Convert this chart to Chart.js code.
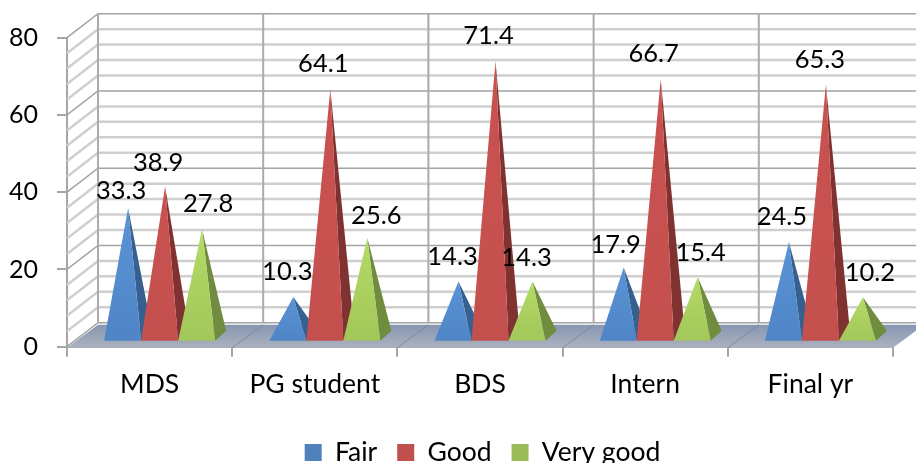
<!DOCTYPE html>
<html>
<head>
<meta charset="utf-8">
<style>
html, body { margin: 0; padding: 0; background: #fff; overflow: hidden; }
#wrap { position: relative; width: 916px; height: 463px; }
</style>
<script src="https://cdn.jsdelivr.net/npm/chart.js@4/dist/chart.umd.js"></script>
</head>
<body>
<div id="wrap"><canvas id="chart" width="916" height="463"></canvas></div>
<script>
const categories = ['MDS', 'PG student', 'BDS', 'Intern', 'Final yr'];
const fair = [33.3, 10.3, 14.3, 17.9, 24.5];
const good = [38.9, 64.1, 71.4, 66.7, 65.3];
const veryGood = [27.8, 25.6, 14.3, 15.4, 10.2];
const seriesNames = ['Fair', 'Good', 'Very good'];
const yTicks = [0, 20, 40, 60, 80];

const legendColors = ['#4f81bd', '#c0504d', '#9bbb59'];
const frontTop = ['#5a93d6', '#c9524f', '#b4da66'];
const frontBottom = ['#4f85c6', '#c4504d', '#a2c75a'];
const sideColors = ['#35608f', '#803230', '#6f8c3f'];
const fontName = 'Lato, "Noto Sans", sans-serif';

// 3D box of the wall and the pyramids
const depthX = 31, depthY = 24;
const rowX = 10, baseY = 5, apexY = 10;
const sideX = 11, sideY = 10;
// hand placed labels, Excel moved a few of them
const labelOffsets = [
    [[-7, -17], [-6, -25], [-6, -25], [-8, -23], [-7, -25]],
    [[-7, -24], [-7, -25], [-7, -25], [-7, -25], [-6, -25]],
    [[6, -26], [9, -22], [-6, -24], [3, -24], [7, -25]]
];

const wallPlugin = {
    id: 'wall3d',
    beforeDatasetsDraw(chart) {
        const ctx = chart.ctx;
        const xs = chart.scales.x, ys = chart.scales.y;
        const left = xs.left, right = xs.right;
        const y0 = ys.getPixelForValue(0), yTop = ys.getPixelForValue(80);

        ctx.save();
        // wall lines, light every 4, dark every 20
        for (let v = 0; v <= 80; v += 4) {
            const y = ys.getPixelForValue(v);
            const major = v % 20 === 0;
            ctx.strokeStyle = major ? '#a3a3a3' : '#cfcfcf';
            ctx.lineWidth = major ? 1.5 : 2.5;
            ctx.beginPath();
            ctx.moveTo(left, y);
            ctx.lineTo(left + depthX, y - depthY);
            ctx.lineTo(right + depthX, y - depthY);
            ctx.stroke();
        }
        ctx.strokeStyle = '#ababab';
        ctx.lineWidth = 2;
        for (let i = 0; i <= categories.length; i++) {
            const x = left + (right - left) * i / categories.length + depthX;
            ctx.beginPath();
            ctx.moveTo(x, yTop - depthY);
            ctx.lineTo(x, y0 - depthY);
            ctx.stroke();
        }

        // floor
        const grad = ctx.createLinearGradient(0, y0 - depthY, 0, y0);
        grad.addColorStop(0, '#8393b0');
        grad.addColorStop(1, '#aab1be');
        ctx.fillStyle = grad;
        ctx.beginPath();
        ctx.moveTo(left, y0 + 1);
        ctx.lineTo(left + depthX, y0 - depthY + 2);
        ctx.lineTo(right + depthX, y0 - depthY + 2);
        ctx.lineTo(right, y0 + 1);
        ctx.closePath();
        ctx.fill();
        ctx.strokeStyle = '#7f8a9d';
        ctx.lineWidth = 1;
        for (let i = 1; i < categories.length; i++) {
            const x = left + (right - left) * i / categories.length;
            ctx.beginPath();
            ctx.moveTo(x, y0 + 1);
            ctx.lineTo(x + depthX, y0 - depthY + 2);
            ctx.stroke();
        }

        // pyramids
        chart.data.datasets.forEach(function (ds, s) {
            chart.getDatasetMeta(s).data.forEach(function (bar) {
                const cx = bar.x + rowX;
                const half = bar.width / 2;
                const by = bar.base - baseY;
                const ax = cx + sideX / 2;
                const ay = bar.y - apexY;

                ctx.fillStyle = sideColors[s];
                ctx.beginPath();
                ctx.moveTo(cx + half, by);
                ctx.lineTo(cx + half + sideX, by - sideY);
                ctx.lineTo(ax, ay);
                ctx.closePath();
                ctx.fill();

                const face = ctx.createLinearGradient(0, ay, 0, by);
                face.addColorStop(0, frontTop[s]);
                face.addColorStop(1, frontBottom[s]);
                ctx.fillStyle = face;
                ctx.beginPath();
                ctx.moveTo(cx - half, by);
                ctx.lineTo(cx + half, by);
                ctx.lineTo(ax, ay);
                ctx.closePath();
                ctx.fill();
            });
        });

        // value labels
        ctx.fillStyle = '#000';
        ctx.font = '25.5px ' + fontName;
        ctx.textAlign = 'center';
        ctx.textBaseline = 'middle';
        chart.data.datasets.forEach(function (ds, s) {
            chart.getDatasetMeta(s).data.forEach(function (bar, i) {
                const off = labelOffsets[s][i];
                ctx.fillText(ds.data[i].toFixed(1), bar.x + rowX + sideX / 2 + off[0], bar.y - apexY + off[1]);
            });
        });
        ctx.restore();
        return false;
    },
    afterLayout(chart) {
        // legend sits low and right of centre in the original
        const lg = chart.legend;
        const h = lg.height, w = lg.width;
        lg.top = 419.25;
        lg.bottom = lg.top + h;
        lg.left += 36;
        lg.right = lg.left + w;
    }
};

new Chart(document.getElementById('chart'), {
    type: 'bar',
    data: {
        labels: categories,
        datasets: [
            { label: seriesNames[0], data: fair, backgroundColor: legendColors[0] },
            { label: seriesNames[1], data: good, backgroundColor: legendColors[1] },
            { label: seriesNames[2], data: veryGood, backgroundColor: legendColors[2] }
        ]
    },
    plugins: [wallPlugin],
    options: {
        responsive: false,
        animation: false,
        categoryPercentage: 0.672,
        barPercentage: 1,
        layout: { padding: { top: 37.7, right: 23, left: 0, bottom: 0 } },
        plugins: {
            tooltip: { enabled: false },
            legend: {
                position: 'bottom',
                labels: {
                    boxWidth: 17,
                    boxHeight: 17,
                    padding: 20,
                    color: '#000',
                    font: { family: fontName, size: 26.5 }
                }
            }
        },
        scales: {
            x: {
                z: 1,
                afterFit(scale) { scale.height = 463 - 346.7 - scale.chart.legend.height; },
                border: { color: '#a6a6a6', width: 2 },
                grid: { drawOnChartArea: false, color: '#a6a6a6', lineWidth: 2, tickLength: 10, offset: true },
                ticks: { color: '#000', padding: 12, maxRotation: 0, font: { family: fontName, size: 26.5 } }
            },
            y: {
                z: 1,
                min: 0,
                max: 80,
                afterFit(scale) { scale.width = 67; },
                afterBuildTicks(scale) { scale.ticks = yTicks.map(v => ({ value: v })); },
                border: { color: '#a6a6a6', width: 2 },
                grid: { drawOnChartArea: false, color: '#a6a6a6', lineWidth: 2, tickLength: 10 },
                ticks: { color: '#000', padding: 19, font: { family: fontName, size: 25 } }
            }
        }
    }
});
</script>
</body>
</html>
